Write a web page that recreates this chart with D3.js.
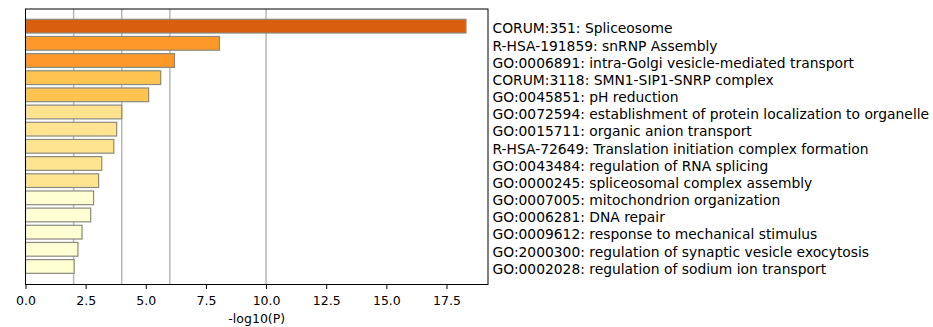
<!DOCTYPE html>
<html>
<head>
<meta charset="utf-8">
<script src="https://cdn.jsdelivr.net/npm/d3@7"></script>
<style>
  body { margin: 0; background: #fff; }
  svg { font-family: "DejaVu Sans", sans-serif; }
</style>
</head>
<body>
<div id="chart"></div>
<script>
// term labels, top to bottom
var terms = [
    "CORUM:351: Spliceosome",
    "R-HSA-191859: snRNP Assembly",
    "GO:0006891: intra-Golgi vesicle-mediated transport",
    "CORUM:3118: SMN1-SIP1-SNRP complex",
    "GO:0045851: pH reduction",
    "GO:0072594: establishment of protein localization to organelle",
    "GO:0015711: organic anion transport",
    "R-HSA-72649: Translation initiation complex formation",
    "GO:0043484: regulation of RNA splicing",
    "GO:0000245: spliceosomal complex assembly",
    "GO:0007005: mitochondrion organization",
    "GO:0006281: DNA repair",
    "GO:0009612: response to mechanical stimulus",
    "GO:2000300: regulation of synaptic vesicle exocytosis",
    "GO:0002028: regulation of sodium ion transport"
];

// -log10(P) for each term
var logP = [18.31, 8.06, 6.19, 5.62, 5.12, 4.0, 3.79, 3.67, 3.17, 3.04, 2.83, 2.71, 2.35, 2.18, 2.02];

// colour class per bar
var colorClass = [4, 3, 3, 2, 2, 1, 1, 1, 1, 1, 0, 0, 0, 0, 0];
var palette = ["#ffffd4", "#fee391", "#fec44f", "#fe9929", "#d95f0e"];

var xTicks = [0, 2.5, 5, 7.5, 10, 12.5, 15, 17.5];
var gridValues = [2, 4, 6, 10];

function init() {
    var w = 933, h = 327;
    var left = 25.5, right = 488, top = 9, bottom = 284.5;

    var svg = d3.select("#chart").append("svg")
        .attr("width", w)
        .attr("height", h);

    var x = d3.scaleLinear()
        .domain([0, d3.max(logP) * 1.05])
        .range([left, right]);

    var y = d3.scaleLinear()
        .domain([-1.0, logP.length + 0.05])
        .range([top, bottom]);

    var barH = y(0.4) - y(-0.4);

    // grid lines sit behind the bars
    svg.selectAll("line.grid")
        .data(gridValues)
        .enter()
        .append("line")
        .attr("class", "grid")
        .attr("x1", function(d){ return x(d); })
        .attr("x2", function(d){ return x(d); })
        .attr("y1", top)
        .attr("y2", bottom)
        .attr("stroke", "#b8b8b8")
        .attr("stroke-width", 1.5);

    svg.selectAll("rect.bar")
        .data(logP)
        .enter()
        .append("rect")
        .attr("class", "bar")
        .attr("x", x(0))
        .attr("y", function(d, i){ return y(i) - barH / 2; })
        .attr("width", function(d){ return x(d) - x(0); })
        .attr("height", barH)
        .attr("fill", function(d, i){ return palette[colorClass[i]]; })
        .attr("stroke", "#8a8a80")
        .attr("stroke-width", 1.2);

    // frame
    svg.append("rect")
        .attr("x", left)
        .attr("y", top)
        .attr("width", right - left)
        .attr("height", bottom - top)
        .attr("fill", "none")
        .attr("stroke", "#000")
        .attr("stroke-width", 1);

    var axis = d3.axisBottom(x)
        .tickValues(xTicks)
        .tickFormat(d3.format(".1f"))
        .tickSize(4.5)
        .tickPadding(7.5);

    var g = svg.append("g")
        .attr("transform", "translate(0," + bottom + ")")
        .call(axis);
    g.select(".domain").remove();
    g.selectAll("text")
        .attr("font-size", "12.5px")
        .attr("font-family", "DejaVu Sans")
        .attr("fill", "#000");

    svg.append("text")
        .attr("x", (left + right) / 2)
        .attr("y", 322.5)
        .attr("text-anchor", "middle")
        .attr("font-size", "12.5px")
        .text("-log10(P)");

    // term names to the right of the plot
    svg.selectAll("text.term")
        .data(terms)
        .enter()
        .append("text")
        .attr("class", "term")
        .attr("x", 492.5)
        .attr("y", function(d, i){ return y(i) + 7.3; })
        .attr("font-size", "13.85px")
        .text(function(d){ return d; });
}

window.onload = init;
</script>
</body>
</html>
